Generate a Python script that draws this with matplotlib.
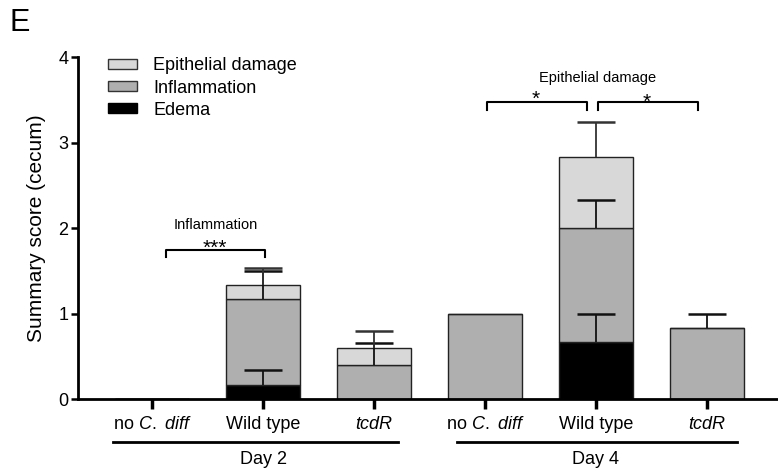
import numpy as np
import matplotlib
matplotlib.use('Agg')
from matplotlib import pyplot as plt
from matplotlib.patches import Patch

plt.rcParams['font.family'] = ['Liberation Sans', 'DejaVu Sans']
plt.rcParams['mathtext.fontset'] = 'custom'
plt.rcParams['mathtext.rm'] = 'Liberation Sans'
plt.rcParams['mathtext.it'] = 'Liberation Sans:italic'

# groups: day 2 (no C. diff, WT, tcdR), day 4 (no C. diff, WT, tcdR)
groups = ['no $\\mathit{C.\\ diff}$', 'Wild type', 'tcdR',
          'no $\\mathit{C.\\ diff}$', 'Wild type', 'tcdR']
edema = [0.0, 0.167, 0.0, 0.0, 0.667, 0.0]
inflammation = [0.0, 1.0, 0.4, 1.0, 1.333, 0.833]
epithelial = [0.0, 0.167, 0.2, 0.0, 0.833, 0.0]
edema_err = [0.0, 0.167, 0.0, 0.0, 0.333, 0.0]
inflammation_err = [0.0, 0.333, 0.25, 0.0, 0.333, 0.167]
epithelial_err = [0.0, 0.2, 0.2, 0.0, 0.41, 0.0]

c_epi = '#d8d8d8'
c_inf = '#afafaf'
c_ede = '#000000'

fig = plt.figure(figsize=(7.78, 4.71), dpi=100)
ax = fig.add_axes([78/778, 72/471, 700/778, 342/471])

x = np.arange(len(groups))
w = 0.66
edema = np.array(edema)
inflammation = np.array(inflammation)
epithelial = np.array(epithelial)

ax.bar(x, edema, w, color=c_ede, edgecolor='#222222', linewidth=1.0, zorder=2)
ax.bar(x, inflammation, w, bottom=edema, color=c_inf, edgecolor='#222222', linewidth=1.0, zorder=2)
ax.bar(x, epithelial, w, bottom=edema + inflammation, color=c_epi, edgecolor='#222222', linewidth=1.0, zorder=2)

# upward-only error bars from the top of each segment
tops = [edema, edema + inflammation, edema + inflammation + epithelial]
errs = [edema_err, inflammation_err, epithelial_err]
segs = [edema, inflammation, epithelial]
cap = 0.167
for top, err, seg, col in zip(tops, errs, segs, ['#111111', '#111111', '#333333']):
    for xi, t, e, s in zip(x, top, err, seg):
        if e > 0 and s > 0:
            ax.vlines(xi, t, t + e, color=col, lw=1.3, zorder=3)
            ax.hlines(t + e, xi - cap, xi + cap, color=col, lw=1.8, zorder=3)

ax.set_xlim(-0.667, 5.64)
ax.set_ylim(0, 4)
ax.set_yticks([0, 1, 2, 3, 4])
ax.set_xticks(x)
ax.set_xticklabels(groups, fontsize=13)
for i, lab in enumerate(ax.get_xticklabels()):
    if i in (2, 5):
        lab.set_fontstyle('italic')
ax.tick_params(axis='y', labelsize=13, length=5, width=1.8, pad=2)
ax.tick_params(axis='x', length=7, width=2.5, pad=5)
ax.spines['top'].set_visible(False)
ax.spines['right'].set_visible(False)
ax.spines['left'].set_linewidth(2.0)
ax.spines['bottom'].set_linewidth(2.0)
ax.set_ylabel('Summary score (cecum)', fontsize=15, labelpad=9)

# day group lines under the tick labels
tr = ax.get_xaxis_transform()
for x0, x1, xc, name in [(-0.35, 2.216, 1, 'Day 2'), (2.748, 5.27, 4, 'Day 4')]:
    ax.plot([x0, x1], [-0.126, -0.126], color='black', lw=2.0, transform=tr, clip_on=False)
    ax.text(xc, -0.178, name, transform=tr, ha='center', va='center', fontsize=13)

# significance brackets
def bracket(x0, x1, ytop, ybot):
    ax.plot([x0, x0, x1, x1], [ybot, ytop, ytop, ybot], color='black', lw=1.5, zorder=4)

bracket(0.123, 1.018, 1.739, 1.665)
ax.text(0.57, 1.70, '***', ha='center', va='baseline', fontsize=15)
ax.text(0.57, 2.04, 'Inflammation', ha='center', va='center', fontsize=10.5)

bracket(3.018, 3.919, 3.47, 3.38)
bracket(4.018, 4.919, 3.47, 3.38)
ax.text(3.46, 3.44, '*', ha='center', va='baseline', fontsize=15)
ax.text(4.46, 3.40, '*', ha='center', va='baseline', fontsize=15)
ax.text(4.01, 3.76, 'Epithelial damage', ha='center', va='center', fontsize=10.5)

handles = [Patch(facecolor=c_epi, edgecolor='#333333', label='Epithelial damage'),
           Patch(facecolor=c_inf, edgecolor='#333333', label='Inflammation'),
           Patch(facecolor=c_ede, edgecolor='#000000', label='Edema')]
ax.legend(handles=handles, loc='upper left', bbox_to_anchor=(0.03, 1.025), frameon=False,
          fontsize=13, borderpad=0, handlelength=1.6, handleheight=0.45,
          handletextpad=0.9, labelspacing=0.28)

fig.text(10/778, 1 - 23/471, 'E', fontsize=22, va='center', ha='left')

plt.savefig('out.png', dpi=100)
